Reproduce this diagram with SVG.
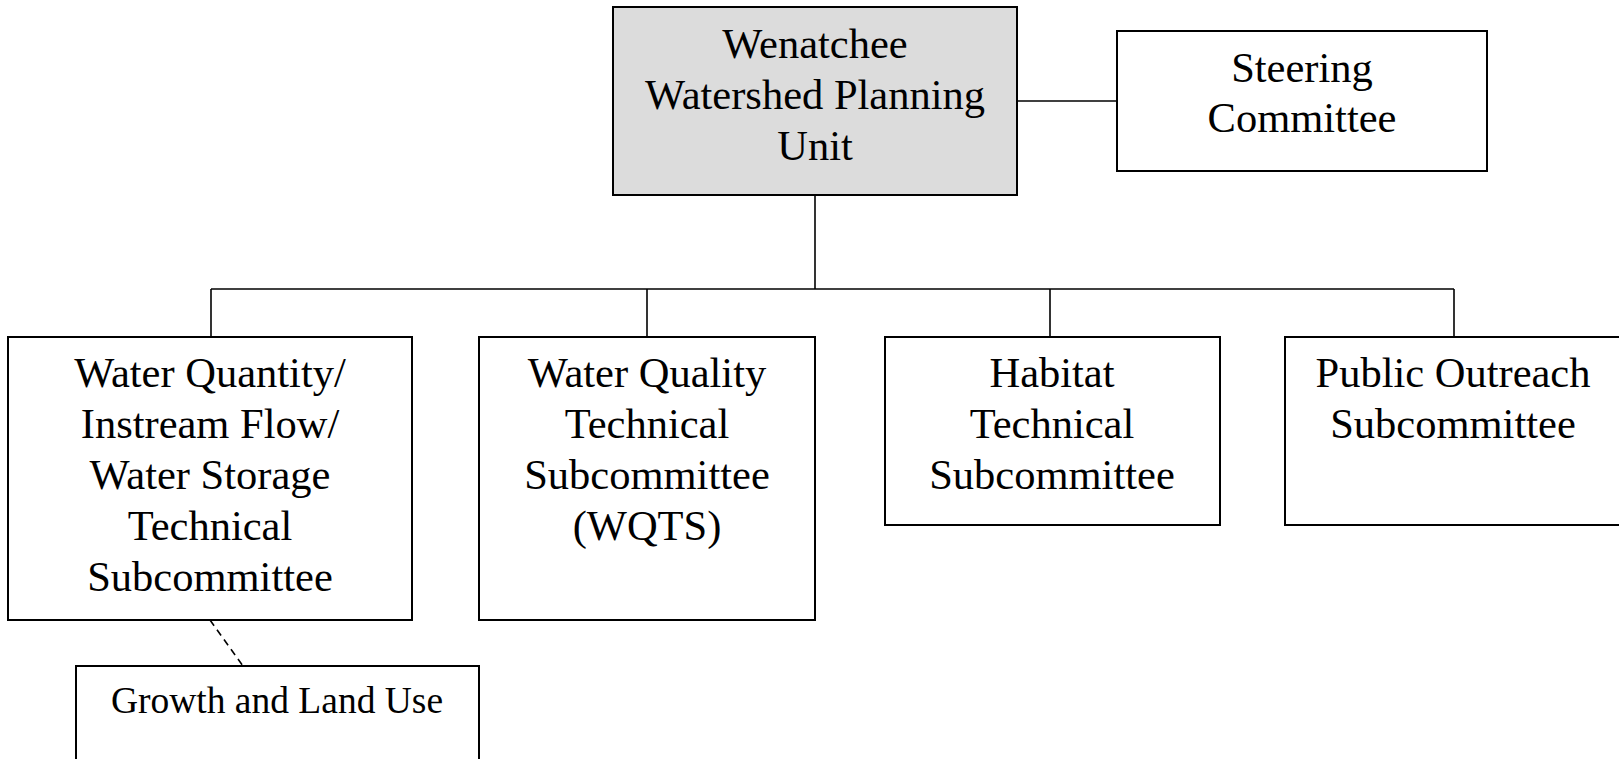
<svg xmlns="http://www.w3.org/2000/svg" width="1619" height="759" viewBox="0 0 1619 759">
<style>
.box{fill:#ffffff;stroke:#000000;stroke-width:2}
.main{fill:#dcdcdc;stroke:#000000;stroke-width:2}
.t{font-family:"Liberation Serif","Times New Roman",serif;font-size:42.5px;fill:#000000;text-anchor:middle}
.s{font-family:"Liberation Serif","Times New Roman",serif;font-size:37.5px;fill:#000000;text-anchor:middle}
.c{fill:none;stroke:#000000;stroke-width:1.6}
.d{fill:none;stroke:#000000;stroke-width:1.6;stroke-dasharray:7,5}
</style>
<rect width="1619" height="759" fill="#ffffff"/>
<g id="connectors">
<line class="c" x1="1017" y1="101" x2="1117" y2="101"/>
<line class="c" x1="815" y1="195" x2="815" y2="289"/>
<line class="c" x1="211" y1="289" x2="1454" y2="289"/>
<line class="c" x1="211" y1="289" x2="211" y2="337"/>
<line class="c" x1="647" y1="289" x2="647" y2="337"/>
<line class="c" x1="1050" y1="289" x2="1050" y2="337"/>
<line class="c" x1="1454" y1="289" x2="1454" y2="337"/>
<line class="d" x1="210" y1="620" x2="243" y2="666"/>
</g>
<g id="planning-unit">
<rect class="main" x="613" y="7" width="404" height="188"/>
<text class="t" x="815" y="58">Wenatchee</text>
<text class="t" x="815" y="109">Watershed Planning</text>
<text class="t" x="815" y="160">Unit</text>
</g>
<g id="steering-committee">
<rect class="box" x="1117" y="31" width="370" height="140"/>
<text class="t" x="1302" y="82">Steering</text>
<text class="t" x="1302" y="132">Committee</text>
</g>
<g id="water-quantity">
<rect class="box" x="8" y="337" width="404" height="283"/>
<text class="t" x="210" y="387">Water Quantity/</text>
<text class="t" x="210" y="438">Instream Flow/</text>
<text class="t" x="210" y="489">Water Storage</text>
<text class="t" x="210" y="540">Technical</text>
<text class="t" x="210" y="591">Subcommittee</text>
</g>
<g id="water-quality">
<rect class="box" x="479" y="337" width="336" height="283"/>
<text class="t" x="647" y="387">Water Quality</text>
<text class="t" x="647" y="438">Technical</text>
<text class="t" x="647" y="489">Subcommittee</text>
<text class="t" x="647" y="540">(WQTS)</text>
</g>
<g id="habitat">
<rect class="box" x="885" y="337" width="335" height="188"/>
<text class="t" x="1052" y="387">Habitat</text>
<text class="t" x="1052" y="438">Technical</text>
<text class="t" x="1052" y="489">Subcommittee</text>
</g>
<g id="public-outreach">
<rect class="box" x="1285" y="337" width="340" height="188"/>
<text class="t" x="1453" y="387">Public Outreach</text>
<text class="t" x="1453" y="438">Subcommittee</text>
</g>
<g id="growth-land-use">
<rect class="box" x="76" y="666" width="403" height="110"/>
<text class="s" x="277" y="713">Growth and Land Use</text>
</g>
</svg>
